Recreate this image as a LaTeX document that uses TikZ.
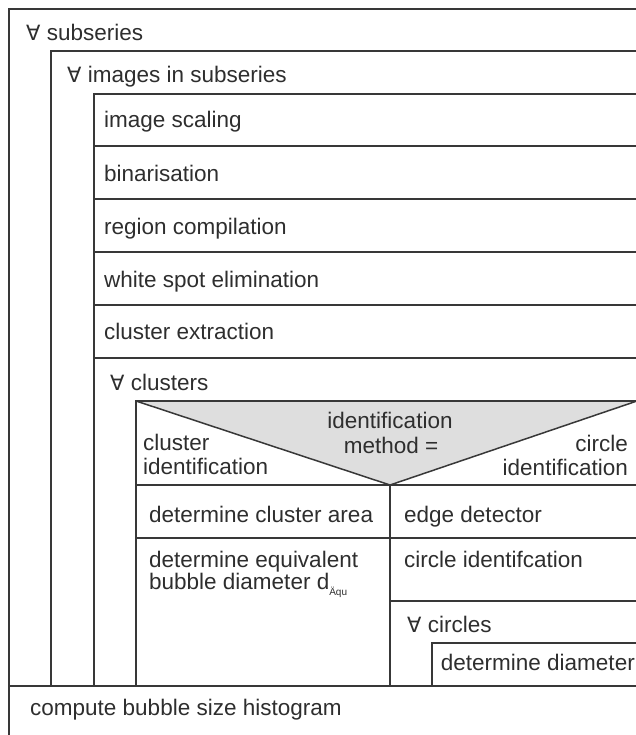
\documentclass[tikz,border=0pt]{standalone}
\usepackage{fontspec}
\setmainfont{Liberation Sans}
\newfontfamily\symfont{DejaVu Sans}
\usepackage{tikz}
\newcommand{\fa}{{\symfont\fontsize{21bp}{22bp}\selectfont ∀}}
\newcommand{\subaq}{\raisebox{-6bp}{\fontsize{10bp}{10bp}\selectfont Äqu}}

\begin{document}
\begin{tikzpicture}[x=1bp, y=-1bp,
  txt/.style={anchor=base west, inner sep=0pt,
    font=\fontsize{22.5bp}{24bp}\selectfont, text=black!82},
  txtc/.style={txt, anchor=base},
  txtr/.style={txt, anchor=base east},
  rule/.style={draw=black!78, line width=1.5bp}]
\useasboundingbox (0,0) rectangle (636,735);
\clip (0,0) rectangle (636,735);

% Decision triangle
\fill[black!13] (136,401) -- (637,401) -- (390,485) -- cycle;
\draw[rule] (136,401) -- (390,485) -- (637,401);

% Loop frames
\draw[rule] (9,735) -- (9,9) -- (640,9);
\draw[rule] (51,686) -- (51,51) -- (640,51);
\draw[rule] (94,686) -- (94,94) -- (640,94);
\draw[rule] (136,686) -- (136,401) -- (640,401);
\draw[rule] (432,686) -- (432,643) -- (640,643);

% Step separators
\foreach \y in {146,199,252,305,358}
  \draw[rule] (94,\y) -- (640,\y);
\draw[rule] (136,485) -- (640,485);
\draw[rule] (136,538) -- (640,538);
\draw[rule] (390,485) -- (390,686);
\draw[rule] (390,601) -- (640,601);
\draw[rule] (9,686) -- (640,686);

% Texts
\node[txt] (subs) at (26,41) {\fa\ subseries};
\node[txt] (imgs) at (67,83) {\fa\ images in subseries};
\node[txt] (scal) at (104,128) {image scaling};
\node[txt] (bina) at (104,181) {binarisation};
\node[txt] (regc) at (104,234) {region compilation};
\node[txt] (spot) at (104,287) {white spot elimination};
\node[txt] (extr) at (104,339) {cluster extraction};
\node[txt] (clus) at (110,390) {\fa\ clusters};

\node[txtc] (meth1) at (390,428) {identification};
\node[txtc] (meth2) at (391,453) {method =};
\node[txt] (cid1) at (143,450) {cluster};
\node[txt] (cid2) at (143,474) {identification};
\node[txtr] (ccid1) at (628,451) {circle};
\node[txtr] (ccid2) at (628,475) {identification};

\node[txt] (area) at (149,522) {determine cluster area};
\node[txt] (equ1) at (149,567) {determine equivalent};
\node[txt] (equ2) at (149,589) {bubble diameter d\subaq};
\node[txt] (edge) at (404,522) {edge detector};
\node[txt] (circ) at (404,567) {circle identifcation};
\node[txt] (circs) at (407,632) {\fa\ circles};
\node[txtr] (diam) at (635,670) {determine diameter};

\node[txt] (hist) at (30,715) {compute bubble size histogram};

\end{tikzpicture}
\end{document}
